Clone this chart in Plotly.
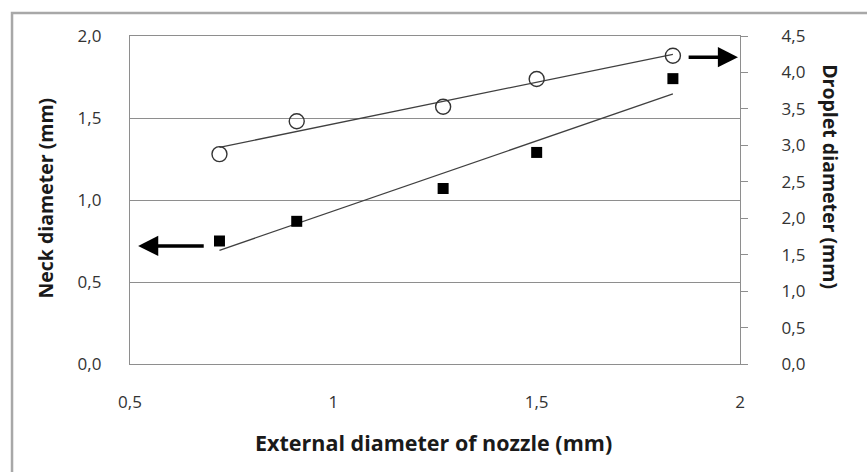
import numpy as np
import plotly.graph_objects as go

# Data
nozzle_ext = [0.72, 0.91, 1.27, 1.50, 1.835]
neck_diam = [0.75, 0.87, 1.07, 1.29, 1.74]        # left axis (squares)
droplet_diam = [2.88, 3.33, 3.53, 3.91, 4.23]     # right axis (circles)

x_ticks = [0.5, 1, 1.5, 2]
y_left_ticks = [0, 0.5, 1.0, 1.5, 2.0]
y_right_ticks = [0, 0.5, 1.0, 1.5, 2.0, 2.5, 3.0, 3.5, 4.0, 4.5]

FONT = "'Open Sans', Lato, sans-serif"
GRID = "#8e8e8e"

xa = np.array(nozzle_ext)
xfit = np.array([xa.min(), xa.max()])
pn = np.polyfit(xa, np.array(neck_diam), 1)
pd_ = np.polyfit(xa, np.array(droplet_diam), 1)

fig = go.Figure()
fig.add_trace(go.Scatter(x=xfit, y=np.polyval(pn, xfit), mode="lines",
                         line=dict(color="#404040", width=1.3), showlegend=False))
fig.add_trace(go.Scatter(x=xfit, y=np.polyval(pd_, xfit), mode="lines", yaxis="y2",
                         line=dict(color="#404040", width=1.3), showlegend=False))
fig.add_trace(go.Scatter(x=nozzle_ext, y=neck_diam, mode="markers",
                         marker=dict(symbol="square", size=11, color="black"),
                         showlegend=False))
fig.add_trace(go.Scatter(x=nozzle_ext, y=droplet_diam, mode="markers", yaxis="y2",
                         marker=dict(symbol="circle-open", size=15, color="#333333",
                                     line=dict(width=1.4)),
                         showlegend=False))

# arrows
fig.add_annotation(x=0.52, y=0.72, ax=0.685, ay=0.72, xref="x", yref="y",
                   axref="x", ayref="y", text="", showarrow=True,
                   arrowhead=2, arrowsize=1.15, arrowwidth=3.5, arrowcolor="black")
fig.add_annotation(x=1.995, y=4.21, ax=1.87, ay=4.21, xref="x", yref="y2",
                   axref="x", ayref="y2", text="", showarrow=True,
                   arrowhead=2, arrowsize=1.15, arrowwidth=3.5, arrowcolor="black")

# axis titles
fig.add_annotation(x=-0.139, y=0.505, xref="paper", yref="paper", text="<b>Neck diameter (mm)</b>",
                   xanchor="center", yanchor="middle",
                   textangle=-90, showarrow=False, font=dict(size=19.5, color="#1a1a1a", family=FONT))
fig.add_annotation(x=1.149, y=0.57, xref="paper", yref="paper", text="<b>Droplet diameter (mm)</b>",
                   xanchor="center", yanchor="middle",
                   textangle=90, showarrow=False, font=dict(size=19.5, color="#1a1a1a", family=FONT))
fig.add_annotation(x=0.497, y=-0.238, xref="paper", yref="paper",
                   text="<b>External diameter of nozzle (mm)</b>",
                   xanchor="center", yanchor="middle",
                   showarrow=False, font=dict(size=21.5, color="#1a1a1a", family=FONT))

# outer border
fig.add_shape(type="rect", xref="paper", yref="paper", x0=-0.1934, y0=-0.6, x1=1.4, y1=1.07,
              line=dict(color="#a8a8a8", width=2.5), layer="below")

fig.update_layout(
    width=867, height=472,
    margin=dict(l=130, r=127, t=36, b=108),
    paper_bgcolor="white", plot_bgcolor="white",
    separators=", ",
    font=dict(family=FONT, size=17, color="#333333"),
    xaxis=dict(range=[0.5, 2], tickvals=x_ticks, showgrid=False, zeroline=False,
               showline=True, mirror=True, linecolor=GRID, linewidth=1.3, ticks="",
               ticklabelstandoff=22),
    yaxis=dict(range=[0, 2], tickvals=y_left_ticks, tickformat=".1f",
               showgrid=True, gridcolor=GRID, gridwidth=1.2, zeroline=False,
               showline=True, linecolor=GRID, linewidth=1.3, ticks="",
               ticklabelstandoff=24),
    yaxis2=dict(range=[0, 4.5], tickvals=y_right_ticks, tickformat=".1f",
                overlaying="y", side="right", showgrid=False, zeroline=False,
                showline=True, linecolor=GRID, linewidth=1.3, ticks="outside",
                ticklen=7, tickcolor=GRID, ticklabelstandoff=30),
)

fig.write_html("out.html", config={"displayModeBar": False},
               post_script="document.body.style.margin='0';")
